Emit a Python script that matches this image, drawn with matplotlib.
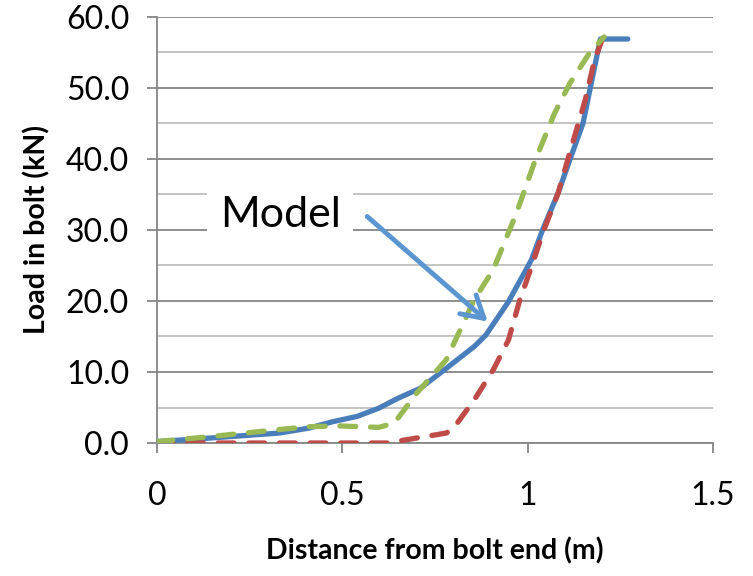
import numpy as np
import matplotlib
matplotlib.use('Agg')
import matplotlib.pyplot as plt

plt.rcParams['font.family'] = ['Lato', 'DejaVu Sans']

# model (solid blue)
model_x = [0.0, 0.144, 0.33, 0.41, 0.474, 0.54, 0.598, 0.65, 0.71, 0.78, 0.856, 0.887,
           0.948, 1.01, 1.04, 1.082, 1.113, 1.149, 1.175, 1.196, 1.27]
model_y = [0.2, 0.7, 1.4, 2.1, 3.0, 3.75, 4.9, 6.3, 7.7, 10.5, 13.6, 15.2,
           19.9, 25.8, 30.0, 35.2, 39.8, 45.0, 51.6, 56.9, 56.9]

# green dashed
green_x = [0.0, 0.144, 0.33, 0.41, 0.495, 0.598, 0.64, 0.70, 0.78, 0.856, 0.907,
           0.969, 1.02, 1.072, 1.113, 1.165, 1.206]
green_y = [0.2, 0.9, 1.9, 2.3, 2.4, 2.2, 2.8, 7.0, 11.7, 20.2, 24.4,
           32.3, 39.8, 46.4, 50.6, 54.8, 57.2]

# red dashed
red_x = [0.0, 0.62, 0.70, 0.78, 0.80, 0.856, 0.907, 0.948, 0.979, 1.01, 1.04,
         1.082, 1.113, 1.155, 1.18, 1.20]
red_y = [0.0, 0.0, 0.7, 1.4, 2.1, 6.1, 10.3, 14.5, 20.2, 24.8, 29.5,
         35.2, 40.8, 48.3, 53.9, 56.7]

xticks = [0, 0.5, 1, 1.5]
xlabels = ['0', '0.5', '1', '1.5']
yticks = [0, 10, 20, 30, 40, 50, 60]

fig = plt.figure(figsize=(7.53, 5.76), dpi=100)
ax = fig.add_axes([0.2085, 0.2309, 0.7385, 0.7396])

lw = 3.8
ax.plot(model_x, model_y, color='#4a7ebb', lw=lw, solid_capstyle='round', zorder=3)
ax.plot(red_x, red_y, color='#be4b48', lw=lw, ls=(0, (3.0, 2.8)),
        dash_capstyle='round', zorder=4)
ax.plot(green_x, green_y, color='#98b954', lw=lw, ls=(0, (3.0, 2.8)),
        dash_capstyle='round', zorder=5)

ax.set_xlim(0, 1.5)
ax.set_ylim(0, 60)
ax.set_xticks(xticks)
ax.set_xticklabels(xlabels)
ax.set_yticks(yticks)
ax.set_yticklabels(['%.1f' % v for v in yticks])
ax.set_yticks(np.arange(5, 60, 10), minor=True)

ax.grid(axis='y', which='major', color='#868686', lw=1.3, zorder=0)
ax.grid(axis='y', which='minor', color='#bfbfbf', lw=1.3, zorder=0)
ax.set_axisbelow(True)
ax.tick_params(axis='y', which='minor', length=0)
ax.tick_params(axis='both', which='major', direction='out', length=7, width=1.3,
               color='#868686', labelsize=23)
ax.tick_params(axis='y', pad=13)
ax.tick_params(axis='x', pad=20)

for s in ['top', 'right']:
    ax.spines[s].set_visible(False)
for s in ['left', 'bottom']:
    ax.spines[s].set_color('#868686')
    ax.spines[s].set_linewidth(1.3)

ax.set_xlabel('Distance from bolt end (m)', fontsize=20.5, fontweight='bold', labelpad=19)
ax.set_ylabel('Load in bolt (kN)', fontsize=20.5, fontweight='bold', labelpad=11)

ax.text(0.332, 32.1, 'Model', fontsize=31, ha='center', va='center', zorder=6,
        bbox=dict(boxstyle='square,pad=0.3', fc='white', ec='none'))
ax.annotate('', xy=(0.892, 17.1), xytext=(0.567, 31.9), zorder=6,
            arrowprops=dict(arrowstyle='->,head_length=0.55,head_width=0.32',
                            color='#5b96d0', lw=3.5, mutation_scale=28,
                            shrinkA=0, shrinkB=0))

fig.savefig('out.png', dpi=100)
